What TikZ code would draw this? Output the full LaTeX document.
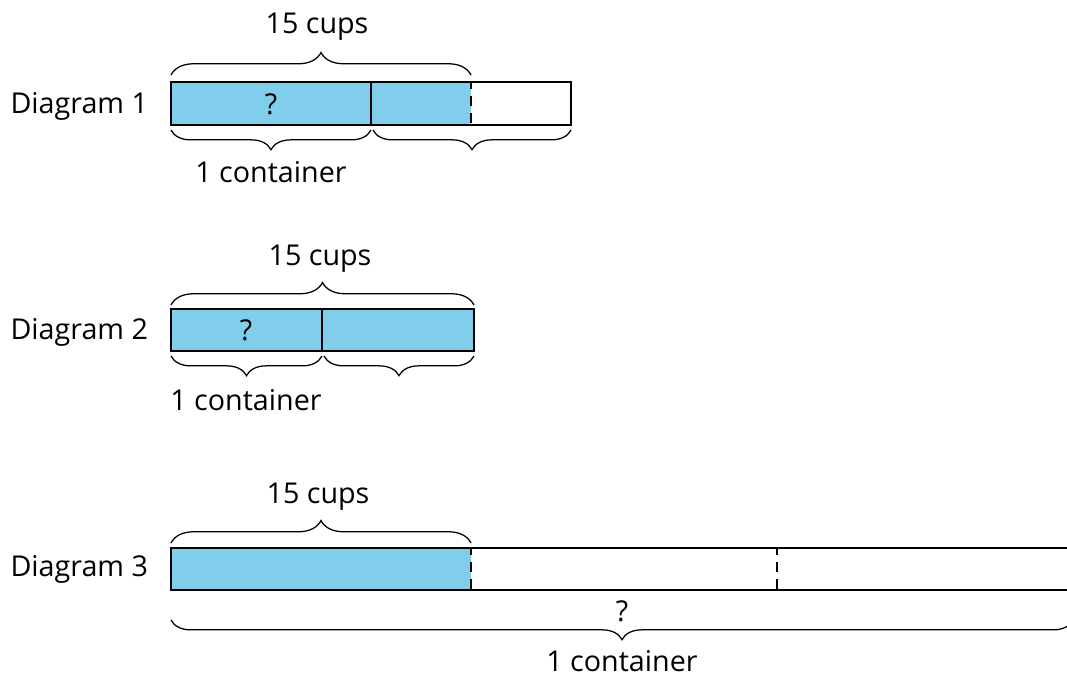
\documentclass[tikz,border=0pt]{standalone}
\usepackage{fontspec}
\setmainfont{Open Sans}
\usetikzlibrary{decorations.pathreplacing}
\definecolor{barblue}{RGB}{128,206,236}

\begin{document}
\begin{tikzpicture}[x=0.0125cm,y=-0.0125cm,
  bar/.style={draw=black,line width=0.8pt},
  cut/.style={dash pattern=on 3.5pt off 2.5pt,dash phase=1pt,line width=0.4pt},
  brace up/.style={decorate,line width=0.45pt,decoration={brace,amplitude=8pt}},
  brace down/.style={decorate,line width=0.45pt,decoration={brace,amplitude=7pt,mirror}},
  lbl/.style={inner sep=0pt,font=\fontsize{10.2}{12}\selectfont}]
  \clip (0,0) rectangle (1067,675);

  % Diagram 1
  \node[lbl,anchor=west] (d1) at (10,106) {Diagram 1};
  \coordinate (1a) at (171,82);
  \coordinate (1b) at (371,82);
  \coordinate (1c) at (471,82);
  \coordinate (1d) at (571,82);
  \fill[barblue] (1a) rectangle (471,125);
  \draw[bar] (1a) rectangle (571,125);
  \draw[bar] (1b) -- (371,125);
  \draw[cut] (1c) -- (471,125);
  \draw[brace up] (171,75) -- (471,75);
  \draw[brace down] (171,130) -- (371,130);
  \draw[brace down] (373,130) -- (571,130);
  \node[lbl] (q1) at (271,104) {?};
  \node[lbl] (c1) at (317,27) {15 cups};
  \node[lbl] (k1) at (271,172) {1 container};

  % Diagram 2
  \node[lbl,anchor=west] (d2) at (10,332) {Diagram 2};
  \coordinate (2a) at (171,309);
  \coordinate (2b) at (322,309);
  \coordinate (2c) at (474,309);
  \fill[barblue] (2a) rectangle (474,351);
  \draw[bar] (2a) rectangle (474,351);
  \draw[bar] (2b) -- (322,351);
  \draw[brace up] (171,305) -- (474,305);
  \draw[brace down] (171,356) -- (322,356);
  \draw[brace down] (324,356) -- (474,356);
  \node[lbl] (q2) at (246,330) {?};
  \node[lbl] (c2) at (320,259) {15 cups};
  \node[lbl] (k2) at (246,400) {1 container};

  % Diagram 3
  \node[lbl,anchor=west] (d3) at (10,569) {Diagram 3};
  \coordinate (3a) at (171,548);
  \coordinate (3b) at (471,548);
  \coordinate (3c) at (777,548);
  \fill[barblue] (3a) rectangle (471,590);
  \draw[bar] (1090,548) -- (3a) -- (171,590) -- (1090,590);
  \draw[cut] (3b) -- (471,590);
  \draw[cut] (3c) -- (777,590);
  \draw[brace up] (171,543) -- (471,543);
  \draw[brace down] (171,620) -- (1073,620);
  \node[lbl] (q3) at (622,611) {?};
  \node[lbl] (c3) at (318,497) {15 cups};
  \node[lbl] (k3) at (622,661) {1 container};
\end{tikzpicture}
\end{document}
